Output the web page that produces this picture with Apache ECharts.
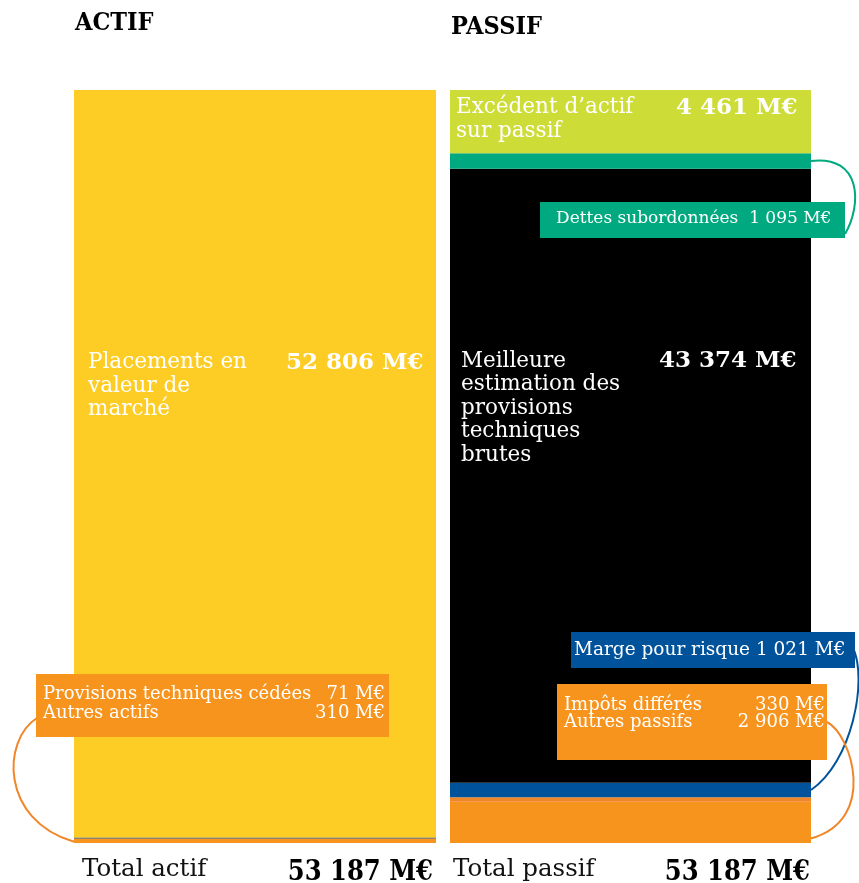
<!DOCTYPE html>
<html>
<head>
<meta charset="utf-8">
<script src="https://cdn.jsdelivr.net/npm/echarts@6/dist/echarts.min.js"></script>
<style>
html, body { margin: 0; padding: 0; background: #fff; }
#main { width: 859px; height: 883px; }
</style>
</head>
<body>
<div id="main"></div>
<script>
// data
var columns = ['ACTIF', 'PASSIF'];
var actifNames = ['Autres actifs', 'Provisions techniques cédées', 'Placements en valeur de marché'];
var actifValues = [310, 71, 52806];
var passifNames = ['Autres passifs', 'Impôts différés', 'Marge pour risque', 'Meilleure estimation des provisions techniques brutes', 'Dettes subordonnées', 'Excédent d’actif sur passif'];
var passifValues = [2906, 330, 1021, 43374, 1095, 4461];
var totals = [53187, 53187];

var actifColors = ['#f7941e', '#2a3d4e', '#fdcd25'];
var passifColors = ['#f7941e', '#f0862a', '#00539b', '#000000', '#00a97f', '#cddc37'];

var SERIF = 'DejaVu Serif';
var SERIF_C = 'DejaVu Serif Condensed';

function fmt(v) {
    return String(v).replace(/\B(?=(\d{3})+(?!\d))/g, ' ') + ' M€';
}

function inBarLabel(lines, value, nameWidth, pos) {
    var txt = '{n|' + lines[0] + '}{v|' + fmt(value) + '}';
    for (var i = 1; i < lines.length; i++) txt += '\n{n|' + lines[i] + '}';
    return {
        show: true,
        position: pos,
        formatter: txt,
        rich: {
            n: { fontFamily: SERIF, fontSize: 21.5, lineHeight: 23.5, width: nameWidth, color: '#fff' },
            v: { fontFamily: SERIF, fontSize: 23, fontWeight: 'bold', lineHeight: 23.5, color: '#fff' }
        }
    };
}

var chart = echarts.init(document.getElementById('main'));

var series = [];
actifValues.forEach(function (v, i) {
    var s = {
        name: actifNames[i], type: 'bar', stack: 'actif',
        xAxisIndex: 0, yAxisIndex: 0, barWidth: '100%',
        itemStyle: { color: actifColors[i] },
        data: [v], silent: true
    };
    if (i == 2) s.label = inBarLabel(['Placements en', 'valeur de', 'marché'], v, 198, [14, 261]);
    series.push(s);
});
passifValues.forEach(function (v, i) {
    var s = {
        name: passifNames[i], type: 'bar', stack: 'passif',
        xAxisIndex: 1, yAxisIndex: 1, barWidth: '100%',
        itemStyle: { color: passifColors[i] },
        data: [v], silent: true
    };
    if (i == 3) s.label = inBarLabel(['Meilleure', 'estimation des', 'provisions', 'techniques', 'brutes'], v, 198, [11, 181]);
    if (i == 5) s.label = inBarLabel(['Excédent d’actif', 'sur passif'], v, 220, [6, 6]);
    series.push(s);
});

var option = {
    animation: false,
    grid: [
        { left: 74, width: 362, top: 90, bottom: 40 },
        { left: 450, width: 361, top: 90, bottom: 40 }
    ],
    xAxis: [
        { type: 'category', gridIndex: 0, data: [columns[0]], show: false },
        { type: 'category', gridIndex: 1, data: [columns[1]], show: false }
    ],
    yAxis: [
        { type: 'value', gridIndex: 0, min: 0, max: totals[0], show: false, splitLine: { show: false } },
        { type: 'value', gridIndex: 1, min: 0, max: totals[1], show: false, splitLine: { show: false } }
    ],
    series: series
};
chart.setOption(option);

// y pixel of the middle of a stacked segment
function segMid(values, idx, axis) {
    var base = 0;
    for (var i = 0; i < idx; i++) base += values[i];
    return chart.convertToPixel({ yAxisIndex: axis }, base + values[idx] / 2);
}

function box(x, y, w, h, color) {
    return { type: 'rect', z: 100, shape: { x: x, y: y, width: w, height: h }, style: { fill: color }, silent: true };
}
function txt(x, y, s, opts) {
    return {
        type: 'text', z: 101, silent: true,
        style: {
            text: s, x: x, y: y,
            fill: opts.fill || '#fff',
            fontFamily: opts.family || SERIF,
            fontSize: opts.size || 18,
            fontWeight: opts.bold ? 'bold' : 'normal',
            align: opts.align || 'left',
            verticalAlign: 'top'
        }
    };
}
function curve(p0, c1, c2, p3, color) {
    return {
        type: 'bezierCurve', z: 100,
        shape: { x1: p0[0], y1: p0[1], cpx1: c1[0], cpy1: c1[1], cpx2: c2[0], cpy2: c2[1], x2: p3[0], y2: p3[1] },
        style: { stroke: color, lineWidth: 2, fill: null }, silent: true
    };
}

var actifLeft = 74, passifRight = 811;
var yGreen = segMid(passifValues, 4, 1);
var yBlue = segMid(passifValues, 2, 1);
var yOrangeP = segMid(passifValues, 0, 1);
var yOrangeA = segMid(actifValues, 0, 0);

var graphics = [
    txt(75, 11, columns[0], { size: 25, bold: true, fill: '#000', family: SERIF_C }),
    txt(451, 15, columns[1], { size: 25, bold: true, fill: '#000', family: SERIF_C }),

    // curves
    curve([passifRight, yGreen], [862, yGreen - 6], [862, 205], [845, 234], '#00a97f'),
    curve([853, 648], [868, 680], [852, 762], [passifRight, yBlue], '#00539b'),
    curve([827, 722], [852, 735], [878, 820], [passifRight, yOrangeP + 16], '#f0862a'),
    curve([37, 718], [2, 740], [0, 820], [actifLeft, yOrangeA + 1], '#f0862a'),

    // callout boxes
    box(540, 202, 305, 36, '#00a97f'),
    txt(556, 210, passifNames[4] + '  ' + fmt(passifValues[4]), { size: 17 }),

    box(571, 632, 284, 36, '#00539b'),
    txt(574, 641, passifNames[2] + ' ' + fmt(passifValues[2]), { size: 18.5 }),

    box(557, 684, 270, 76, '#f7941e'),
    txt(564, 696, passifNames[1], { size: 18 }),
    txt(825, 696, fmt(passifValues[1]), { size: 18, align: 'right' }),
    txt(564, 713, passifNames[0], { size: 18 }),
    txt(825, 713, fmt(passifValues[0]), { size: 18, align: 'right' }),

    box(36, 674, 353, 63, '#f7941e'),
    txt(43, 685, actifNames[1], { size: 18 }),
    txt(385, 685, fmt(actifValues[1]), { size: 18, align: 'right' }),
    txt(43, 704, actifNames[0], { size: 18 }),
    txt(385, 704, fmt(actifValues[0]), { size: 18, align: 'right' }),

    // totals
    txt(82, 857, 'Total actif', { size: 24.5, fill: '#111' }),
    txt(433, 859, fmt(totals[0]), { size: 27, bold: true, fill: '#000', align: 'right', family: SERIF_C }),
    txt(453, 857, 'Total passif', { size: 24.5, fill: '#111' }),
    txt(810, 859, fmt(totals[1]), { size: 27, bold: true, fill: '#000', align: 'right', family: SERIF_C })
];

chart.setOption({ graphic: graphics });
</script>
</body>
</html>
